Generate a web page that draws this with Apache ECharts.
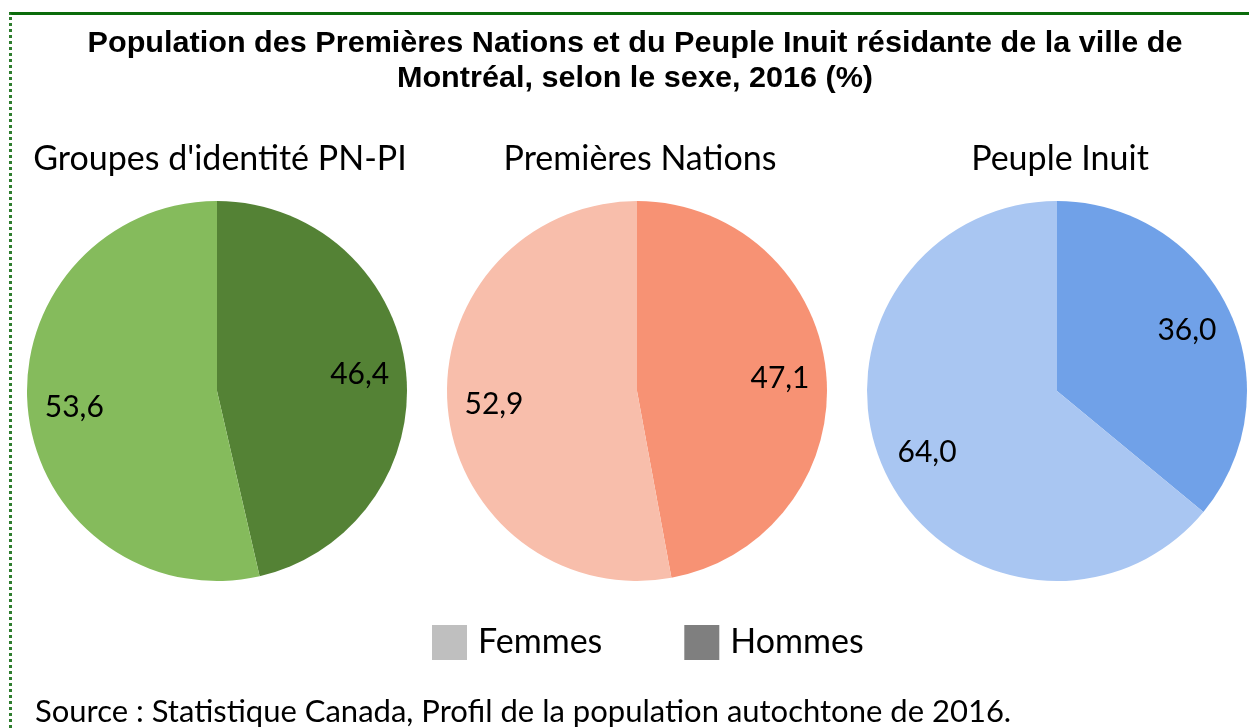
<!DOCTYPE html>
<html>
<head>
<meta charset="utf-8">
<script src="https://cdn.jsdelivr.net/npm/echarts@6/dist/echarts.min.js"></script>
<style>
  html, body { margin: 0; padding: 0; background: #fff; }
  #frame {
    position: absolute; left: 9px; top: 12px; width: 1240px; height: 716px;
    border-top: 3px solid #0b6b0b; border-left: 3px dotted #2e7d2e;
    box-sizing: border-box; pointer-events: none; z-index: 2;
  }
  #chart { position: absolute; left: 0; top: 0; width: 1249px; height: 728px; }
</style>
</head>
<body>
<div id="chart"></div>
<div id="frame"></div>
<script>
// données
const groupes = ["Groupes d'identité PN-PI", 'Premières Nations', 'Peuple Inuit']
const sexes = ['Femmes', 'Hommes']
const hommes = [46.4, 47.1, 36.0]
const femmes = [53.6, 52.9, 64.0]

// couleurs des secteurs (clair = femmes, foncé = hommes)
const clair = ['#85BB5C', '#F8BEAB', '#A9C6F2']
const fonce = ['#548235', '#F79274', '#70A1E8']
const centresX = [217, 637, 1057]
const rayon = 190
const police = 'Lato, "Noto Sans", sans-serif'

function fmt(v) {
  return v.toFixed(1).replace('.', ',')
}

const myChart = echarts.init(document.getElementById('chart'))

let series = []
groupes.forEach(function (g, i) {
  const donnees = [
    { name: sexes[1], value: hommes[i], itemStyle: { color: fonce[i] } },
    { name: sexes[0], value: femmes[i], itemStyle: { color: clair[i] } }
  ]
  // secteurs
  series.push({
    name: g,
    type: 'pie',
    center: [centresX[i], 391],
    radius: [0, rayon],
    startAngle: 90,
    clockwise: true,
    silent: true,
    label: { show: false },
    labelLine: { show: false },
    itemStyle: { borderWidth: 0 },
    data: donnees
  })
  // étiquettes (anneau transparent pour placer les valeurs vers l'extérieur)
  series.push({
    name: g + ' etiquettes',
    type: 'pie',
    center: [centresX[i], 391],
    radius: [rayon * 0.48, rayon],
    startAngle: 90,
    clockwise: true,
    silent: true,
    z: 3,
    itemStyle: { color: 'rgba(0,0,0,0)', borderWidth: 0 },
    label: {
      show: true,
      position: 'inside',
      color: '#000',
      fontFamily: police,
      fontSize: 30,
      formatter: function (p) { return fmt(p.value) }
    },
    labelLine: { show: false },
    data: [
      { name: sexes[1], value: hommes[i] },
      { name: sexes[0], value: femmes[i] }
    ]
  })
})

let graphiques = [
  {
    type: 'text', x: 635, y: 61, scaleX: 1.055,
    style: {
      text: 'Population des Premières Nations et du Peuple Inuit résidante de la ville de\nMontréal, selon le sexe, 2016 (%)',
      fontFamily: '"Liberation Sans", Arial, sans-serif',
      fontWeight: 'bold', fontSize: 29, lineHeight: 35,
      fill: '#000', textAlign: 'center', textVerticalAlign: 'middle'
    }
  },
  {
    type: 'text', x: 35, y: 712,
    style: {
      text: 'Source : Statistique Canada, Profil de la population autochtone de 2016.',
      fontFamily: police, fontSize: 31, fill: '#000',
      textAlign: 'left', textVerticalAlign: 'middle'
    }
  }
]
groupes.forEach(function (g, i) {
  graphiques.push({
    type: 'text', x: centresX[i] + 3, y: 159,
    style: {
      text: g, fontFamily: police, fontSize: 34, fill: '#000',
      textAlign: 'center', textVerticalAlign: 'middle'
    }
  })
})

myChart.setOption({
  animation: false,
  backgroundColor: '#fff',
  legend: {
    left: 427,
    top: 620,
    itemWidth: 35,
    itemHeight: 35,
    itemGap: 82,
    icon: 'rect',
    selectedMode: false,
    textStyle: { fontFamily: police, fontSize: 34, color: '#000', padding: [0, 0, 0, 6] },
    data: [
      { name: sexes[0], itemStyle: { color: '#BFBFBF' } },
      { name: sexes[1], itemStyle: { color: '#7F7F7F' } }
    ]
  },
  graphic: graphiques,
  series: series
})

window.onresize = function () {
  myChart.resize()
}
</script>
</body>
</html>
